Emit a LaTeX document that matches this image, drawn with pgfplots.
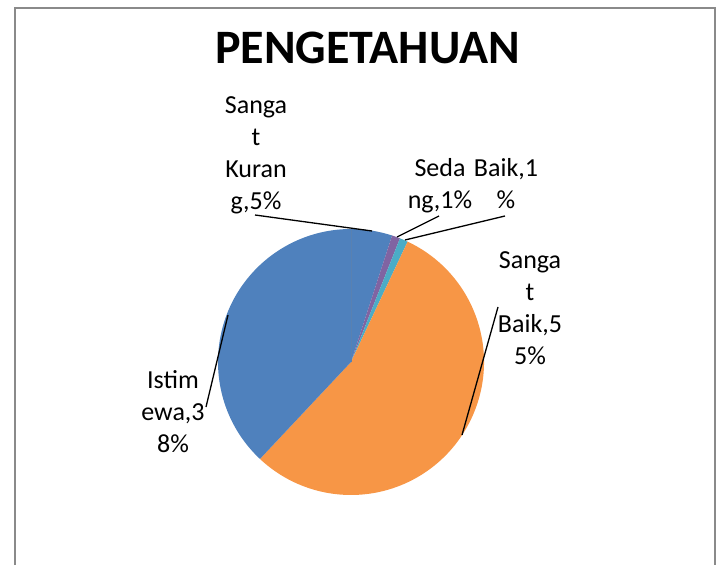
\documentclass[border=0pt]{standalone}
\usepackage{fontspec}
\setmainfont{Carlito}
\usepackage{pgfplots}
\pgfplotsset{compat=1.18}
\definecolor{cblue}{HTML}{4F81BD}
\definecolor{cpurple}{HTML}{8064A2}
\definecolor{caqua}{HTML}{4BACC6}
\definecolor{corange}{HTML}{F79646}
\definecolor{frame}{HTML}{8A8A8A}
\begin{document}
\begin{tikzpicture}
\begin{axis}[width=719bp,height=565bp,scale only axis,
  xmin=0,xmax=719,ymin=0,ymax=565,hide axis,clip=false]
\path (axis cs:0,0) rectangle (axis cs:719,565);
% pie: Sangat Kurang 5, Sedang 1, Baik 1, Sangat Baik 55, Istimewa 38 (percent)
\pgfplotsextra{
  \xdef\pieA{90}
  \foreach \v/\c in {5/cblue,1/cpurple,1/caqua,55/corange,38/cblue}{
    \pgfmathsetmacro\pieB{\pieA-3.6*\v}
    \fill[\c] (axis cs:351,203) -- ++(\pieA:133bp) arc[start angle=\pieA,end angle=\pieB,radius=133bp] -- cycle;
    \xdef\pieA{\pieB}
  }
  \draw[cblue!80!gray, line width=0.6bp] (axis cs:351,203) -- ++(90:133bp);
}
% leader lines
\draw[black, line width=1.3bp] (axis cs:255,350) -- (axis cs:372,334);
\draw[black, line width=1.3bp] (axis cs:439,349) -- (axis cs:397,328);
\draw[black, line width=1.3bp] (axis cs:505,349) -- (axis cs:405,325);
\draw[black, line width=1.3bp] (axis cs:498,258) -- (axis cs:462,130);
\draw[black, line width=1.3bp] (axis cs:228,250) -- (axis cs:206,158);
% labels (anchor = baseline of last line)
\tikzset{lbl/.style={align=center, anchor=base, inner sep=0pt, font=\fontsize{26bp}{32.3bp}\selectfont}}
\node[lbl] at (axis cs:256,355) {Sanga\\t\\Kuran\\g,5\%};
\node[lbl] at (axis cs:440,356) {Seda\\ng,1\%};
\node[lbl] at (axis cs:506,356) {Baik,1\\\%};
\node[lbl] at (axis cs:530,200) {Sanga\\t\\Baik,5\\5\%};
\node[lbl] at (axis cs:173,112) {Istim\\ewa,3\\8\%};
% title
\node[anchor=base, inner sep=0pt, font=\bfseries\fontsize{48bp}{56bp}\selectfont] at (axis cs:367.5,501) {PENGETAHUAN};
% frame
\draw[frame, line width=2bp] (axis cs:14.5,0) -- (axis cs:14.5,556.5) -- (axis cs:715,556.5) -- (axis cs:715,0);
\end{axis}
\end{tikzpicture}
\end{document}
